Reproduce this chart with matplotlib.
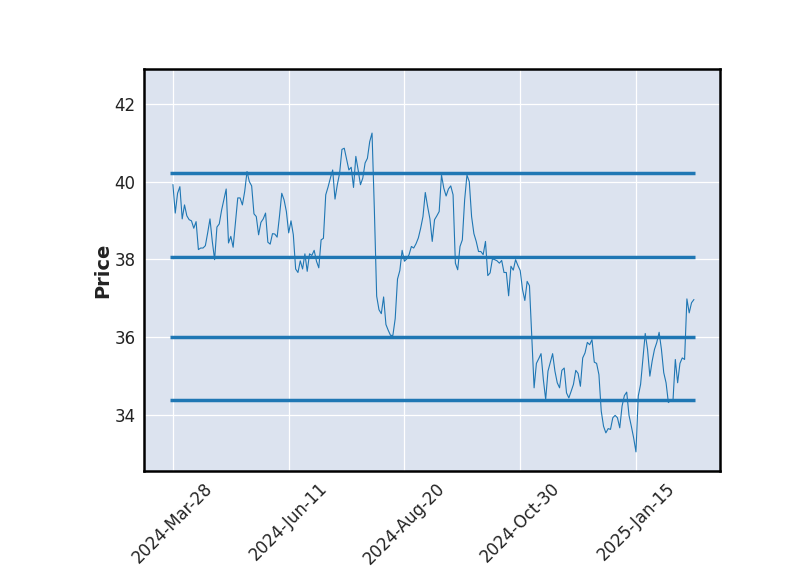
import matplotlib
matplotlib.use("Agg")
import matplotlib.pyplot as plt

# closing prices, one per trading day
closes_a = [
    39.92, 39.19, 39.70, 39.87, 39.04, 39.40, 39.12, 39.02, 38.99, 38.80,
    38.97, 38.25, 38.29, 38.29, 38.35, 38.68, 39.04, 38.46, 37.99, 38.83,
    38.91, 39.26, 39.53, 39.81, 38.42, 38.59, 38.31, 38.95, 39.58, 39.58,
    39.40, 39.75, 40.26, 40.00, 39.89, 39.17, 39.10, 38.63, 38.95, 39.04,
    39.19, 38.44, 38.39, 38.66, 38.65, 38.57, 39.10, 39.70, 39.53, 39.23,
    38.68, 38.99, 38.63, 37.75, 37.66, 37.96, 37.75, 38.14, 37.69, 38.14,
    38.10, 38.23, 37.95, 37.78, 38.50, 38.54, 39.66, 39.86, 40.09, 40.30,
    39.55, 39.92, 40.22,
]
closes_b = [
    40.83, 40.86, 40.58, 40.30, 40.37, 39.85, 40.65, 40.30, 39.92, 40.09,
    40.48, 40.60, 41.03, 41.25, 39.28, 37.05, 36.70, 36.60, 37.03, 36.32,
    36.17, 36.04, 36.04, 36.47, 37.49, 37.71, 38.23, 37.95, 38.01, 38.12,
    38.33, 38.29, 38.40, 38.55, 38.80, 39.10, 39.72, 39.36, 39.04, 38.46,
    39.02, 39.12, 39.23, 40.17, 39.83, 39.63, 39.81, 39.89, 39.66, 37.90,
    37.73, 38.33, 38.50, 39.53, 40.17, 40.00, 39.10, 38.66, 38.46, 38.20,
    38.20, 38.12, 38.46, 37.58, 37.65, 38.01, 37.99, 37.96, 37.90, 37.97,
    37.66, 37.66, 37.06, 37.82, 37.72, 37.99, 37.84,
]
closes_c = [
    37.71, 37.22, 36.94, 37.43, 37.32, 36.02, 34.69, 35.32, 35.44, 35.57,
    34.90, 34.39, 35.12, 35.35, 35.57, 35.12, 34.82, 34.69, 35.14, 35.20,
    34.56, 34.43, 34.60, 34.78, 35.14, 35.06, 34.73, 35.46, 35.59, 35.86,
    35.80, 35.93, 35.35, 35.32, 35.03, 34.09, 33.70, 33.53, 33.64, 33.62,
    33.92, 33.98, 33.92, 33.66, 34.22, 34.49, 34.58, 33.98, 33.70, 33.40,
    33.04, 34.48, 34.78, 35.42, 36.09, 35.68, 34.99, 35.38, 35.68, 35.86,
    36.12, 35.68, 35.08, 34.82, 34.31, 34.37, 34.37, 35.42, 34.82, 35.32,
    35.46, 35.42, 36.98, 36.62, 36.88, 36.96,
]
closes = closes_a + closes_b + closes_c

# support / resistance levels
levels = [40.23, 38.07, 36.01, 34.37]

tick_pos = [0, 50, 100, 150, 200]
tick_labels = ["2024-Mar-28", "2024-Jun-11", "2024-Aug-20", "2024-Oct-30", "2025-Jan-15"]

blue = "#1f77b4"
text_col = "#222222"

fig = plt.figure(figsize=(8, 5.75), dpi=100)
ax = fig.add_axes([0.18, 0.181, 0.72, 0.699])
ax.set_facecolor("#DCE3EF")

n = len(closes)
ax.plot(range(n), closes, color=blue, linewidth=0.8)
ax.hlines(levels, -1.2, n - 0.6, colors=blue, linewidth=2.5)

ax.set_xlim(-12.5, 236.3)
ax.set_ylim(32.55, 42.9)
ax.set_yticks([34, 36, 38, 40, 42])
ax.set_xticks(tick_pos)
ax.set_xticklabels(tick_labels, rotation=45, ha="center")

ax.grid(True, color="white", linewidth=0.9)
ax.set_axisbelow(True)
ax.tick_params(axis="both", length=0, labelsize=12, pad=6, labelcolor=text_col)
for s in ax.spines.values():
    s.set_linewidth(1.8)
    s.set_color("black")

ax.set_ylabel("Price", fontsize=14, fontweight="bold", color=text_col, labelpad=2)

fig.savefig("out.png", dpi=100)
